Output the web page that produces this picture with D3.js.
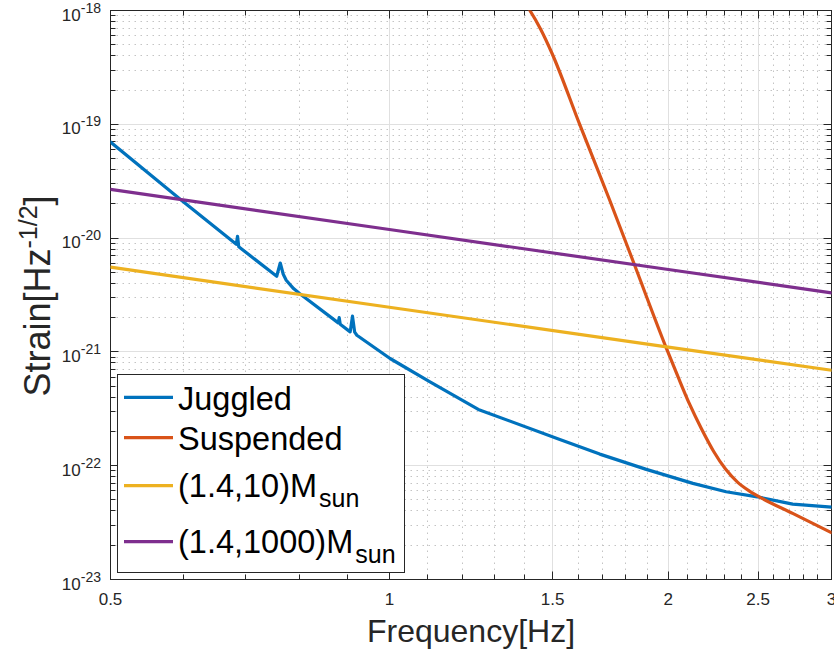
<!DOCTYPE html>
<html><head><meta charset="utf-8">
<script src="https://cdn.jsdelivr.net/npm/d3@7/dist/d3.min.js"></script>
<style>
body{margin:0;background:#fff}
svg{display:block;font-family:"Liberation Sans",Arial,Helvetica,sans-serif}
</style>
</head><body>
<svg id="c" width="834" height="657"></svg>
<script>
// ---------- data ----------
const juggledFreq   = [0.5, 0.595, 0.6835, 0.6856, 0.6877, 0.7557, 0.7624, 0.7681, 0.7738, 0.788, 0.7998,
                       0.8806, 0.8827, 0.8849, 0.9071, 0.9123, 0.9173, 0.9223, 1.0016, 1.1061, 1.2471,
                       1.5272, 1.6866, 1.8935, 2.1259, 2.3091, 2.4947, 2.7242, 3.0];
const juggledStrain = [6.98e-20, 2.18e-20, 8.82e-21, 1.037e-20, 8.39e-21, 4.62e-21, 6.04e-21, 4.81e-21, 4.26e-21, 3.60e-21, 3.26e-21,
                       1.80e-21, 2.00e-21, 1.75e-21, 1.50e-21, 2.06e-21, 1.49e-21, 1.40e-21, 8.75e-22, 5.45e-22, 3.12e-22,
                       1.70e-22, 1.264e-22, 9.28e-23, 6.99e-23, 5.90e-23, 5.33e-23, 4.60e-23, 4.33e-23];

const suspendedFreq   = [1.383, 1.4177, 1.4567, 1.4981, 1.6049, 1.7289, 1.8394, 1.9865, 2.0474, 2.1085, 2.1722,
                         2.2378, 2.3053, 2.3749, 2.447, 2.5214, 2.7242, 3.0];
const suspendedStrain = [1.33e-18, 1.0e-18, 6.81e-19, 4.19e-19, 9.92e-20, 2.15e-20, 5.77e-21, 1.12e-21, 6.12e-22, 3.47e-22, 2.10e-22,
                         1.34e-22, 9.34e-23, 7.18e-23, 5.98e-23, 5.19e-23, 3.81e-23, 2.58e-23];

const bns10Freq   = [0.5, 1, 2, 3];
const bns10Strain = [5.55e-21, 2.47e-21, 1.10e-21, 6.9e-22];

const bns1000Freq   = [0.5, 1, 2, 3];
const bns1000Strain = [2.68e-20, 1.19e-20, 5.3e-21, 3.3e-21];

const seriesNames = ["Juggled", "Suspended", "(1.4,10)M", "(1.4,1000)M"];
const seriesSubs  = ["", "", "sun", "sun"];
const seriesColors = ["#0072BD", "#D95319", "#EDB120", "#7E2F8E"];

const xTickValues = [0.5, 1, 1.5, 2, 2.5, 3];
const xTickLabels = ["0.5", "1", "1.5", "2", "2.5", "3"];
const yTickExponents = [-23, -22, -21, -20, -19, -18];

const xLabel = "Frequency[Hz]";
const yLabelMain = "Strain[Hz";
const yLabelSup = "-1/2";
const yLabelEnd = "]";

// ---------- layout ----------
const X0 = 110.5, X1 = 831.5, Y0 = 10.5, Y1 = 579.5;
const AX = "#262626";
const svg = d3.select("#c");
const x = d3.scaleLog().domain([0.5, 3]).range([X0, X1]);
const y = d3.scaleLog().domain([1e-23, 1e-18]).range([Y1, Y0]);
const crisp = v => Math.round(v - 0.5) + 0.5;

// minor tick values
const xMinor = [];
for (let k = 6; k <= 29; k++) { if (k % 5 !== 0) xMinor.push(k / 10); }
const yMinor = [];
for (let e = -23; e <= -19; e++) for (let m = 2; m <= 9; m++) yMinor.push(m * Math.pow(10, e));
const yMajor = yTickExponents.map(e => Math.pow(10, e));

// ---------- grid ----------
const grid = svg.append("g");
grid.selectAll(".gxm").data(xMinor).join("line")
  .attr("x1", d => crisp(x(d))).attr("x2", d => crisp(x(d)))
  .attr("y1", Y0).attr("y2", Y1)
  .attr("stroke", "#c4c4c4").attr("stroke-width", 1).attr("stroke-dasharray", "1.5,4.5");
grid.selectAll(".gym").data(yMinor).join("line")
  .attr("y1", d => crisp(y(d))).attr("y2", d => crisp(y(d)))
  .attr("x1", X0).attr("x2", X1)
  .attr("stroke", "#c4c4c4").attr("stroke-width", 1).attr("stroke-dasharray", "1.5,4.5");
grid.selectAll(".gxM").data(xTickValues).join("line")
  .attr("x1", d => crisp(x(d))).attr("x2", d => crisp(x(d)))
  .attr("y1", Y0).attr("y2", Y1)
  .attr("stroke", "#e0e0e0").attr("stroke-width", 1);
grid.selectAll(".gyM").data(yMajor).join("line")
  .attr("y1", d => crisp(y(d))).attr("y2", d => crisp(y(d)))
  .attr("x1", X0).attr("x2", X1)
  .attr("stroke", "#e0e0e0").attr("stroke-width", 1);

// ---------- ticks ----------
const ticks = svg.append("g").attr("stroke", AX).attr("stroke-width", 1);
const MAJ = 8, MIN = 5;
function xTicks(vals, len) {
  vals.forEach(v => {
    const px = crisp(x(v));
    ticks.append("line").attr("x1", px).attr("x2", px).attr("y1", Y1).attr("y2", Y1 - len);
    ticks.append("line").attr("x1", px).attr("x2", px).attr("y1", Y0).attr("y2", Y0 + len);
  });
}
function yTicks(vals, len) {
  vals.forEach(v => {
    const py = crisp(y(v));
    ticks.append("line").attr("y1", py).attr("y2", py).attr("x1", X0).attr("x2", X0 + len);
    ticks.append("line").attr("y1", py).attr("y2", py).attr("x1", X1).attr("x2", X1 - len);
  });
}
xTicks(xTickValues, MAJ); xTicks(xMinor, MIN);
yTicks(yMajor, MAJ); yTicks(yMinor, MIN);

// tick labels
svg.append("g").selectAll("text").data(xTickValues).join("text")
  .attr("x", d => x(d)).attr("y", 605)
  .attr("text-anchor", "middle").attr("font-size", 17).attr("fill", AX)
  .text((d, i) => xTickLabels[i]);

const yl = svg.append("g").selectAll("text").data(yTickExponents).join("text")
  .attr("x", 101).attr("y", d => y(Math.pow(10, d)) + 10)
  .attr("text-anchor", "end").attr("fill", AX);
yl.append("tspan").attr("font-size", 17).text("10");
yl.append("tspan").attr("font-size", 14).attr("dy", -8).text(d => String(d));

// axis box
svg.append("rect").attr("x", X0).attr("y", Y0).attr("width", X1 - X0).attr("height", Y1 - Y0)
  .attr("fill", "none").attr("stroke", AX).attr("stroke-width", 1);

// ---------- curves ----------
svg.append("clipPath").attr("id", "clip").append("rect")
  .attr("x", X0).attr("y", Y0).attr("width", X1 - X0).attr("height", Y1 - Y0);
const series = [
  [juggledFreq, juggledStrain, d3.curveLinear],
  [suspendedFreq, suspendedStrain, d3.curveMonotoneX],
  [bns10Freq, bns10Strain, d3.curveLinear],
  [bns1000Freq, bns1000Strain, d3.curveLinear]
];
const curves = svg.append("g").attr("clip-path", "url(#clip)");
series.forEach((s, i) => {
  const pts = s[0].map((f, j) => [f, s[1][j]]);
  const line = d3.line().x(d => x(d[0])).y(d => y(d[1])).curve(s[2]);
  curves.append("path").attr("d", line(pts)).attr("fill", "none")
    .attr("stroke", seriesColors[i]).attr("stroke-width", 3.2)
    .attr("stroke-linejoin", "round").attr("stroke-linecap", "round");
});

// ---------- legend ----------
const lg = svg.append("g");
lg.append("rect").attr("x", 117.5).attr("y", 374.5).attr("width", 287).attr("height", 198)
  .attr("fill", "#fff").attr("stroke", AX).attr("stroke-width", 1);
const rowLine = [397.3, 437.7, 485.7, 541.7];
const rowBase = [410, 450, 497, 553];
seriesNames.forEach((n, i) => {
  lg.append("line").attr("x1", 124).attr("x2", 173).attr("y1", rowLine[i]).attr("y2", rowLine[i])
    .attr("stroke", seriesColors[i]).attr("stroke-width", 3.2);
  const t = lg.append("text").attr("x", 178).attr("y", rowBase[i]).attr("font-size", 32.5).attr("fill", "#000");
  t.append("tspan").text(n);
  if (seriesSubs[i]) t.append("tspan").attr("font-size", 25).attr("dx", 2).attr("dy", 10).text(seriesSubs[i]);
});

// ---------- axis labels ----------
svg.append("text").attr("x", (X0 + X1) / 2).attr("y", 642).attr("text-anchor", "middle")
  .attr("font-size", 32).attr("fill", AX).text(xLabel);
const ylab = svg.append("text").attr("transform", "translate(50,296) rotate(-90)")
  .attr("text-anchor", "middle").attr("font-size", 36).attr("fill", AX);
ylab.append("tspan").text(yLabelMain);
ylab.append("tspan").attr("font-size", 25).attr("dy", -13).text(yLabelSup);
ylab.append("tspan").attr("dy", 13).text(yLabelEnd);
</script>
</body></html>
